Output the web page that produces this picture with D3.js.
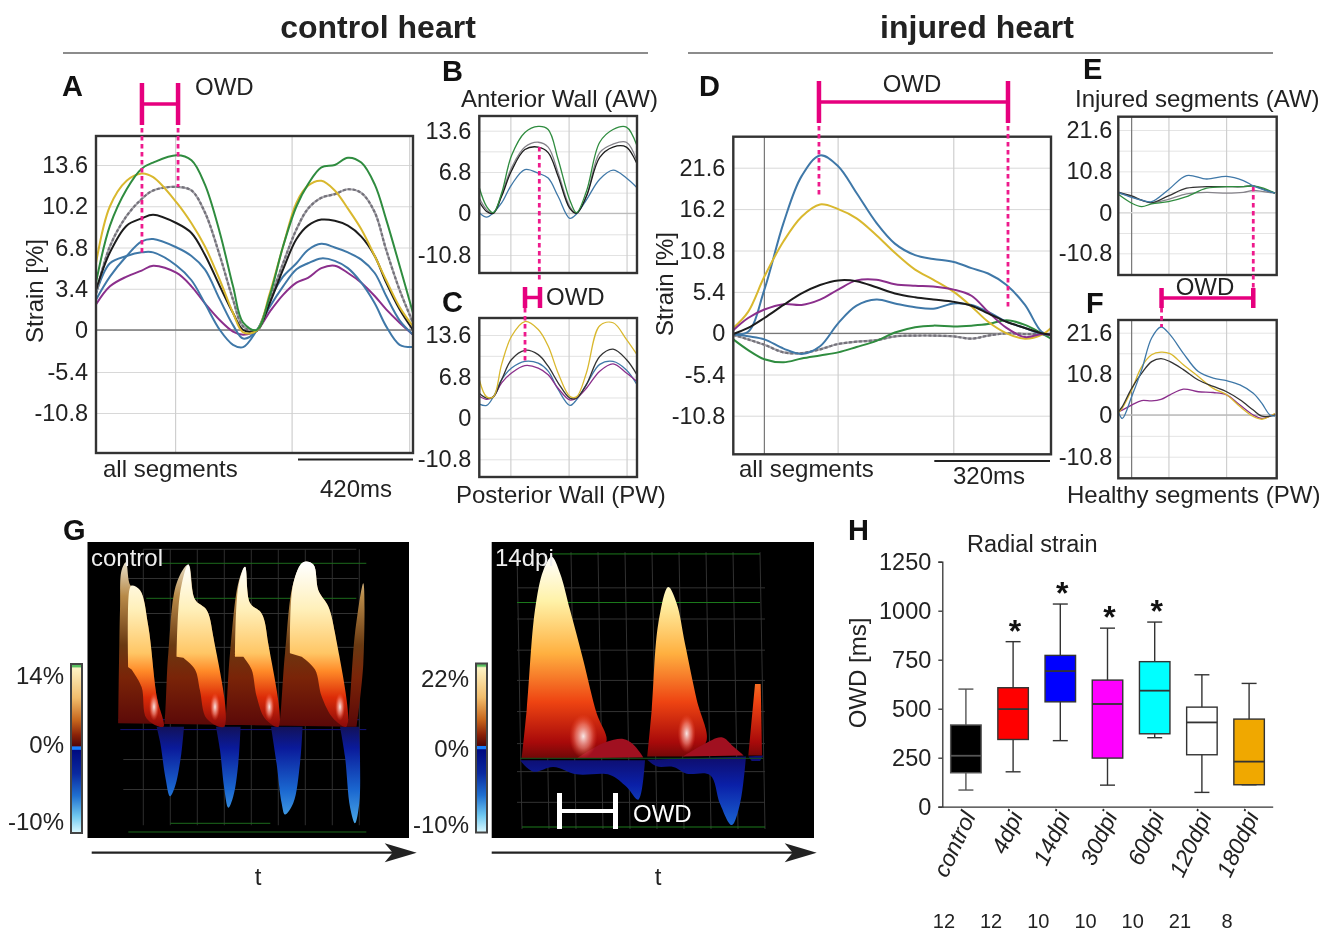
<!DOCTYPE html>
<html>
<head>
<meta charset="utf-8">
<script src="https://cdnjs.cloudflare.com/ajax/libs/d3/7.8.5/d3.min.js"></script>
<style>
  body { margin: 0; background: #fff; }
  svg { display: block; font-family: "Liberation Sans", Arial, sans-serif; fill: #222; filter: blur(0.45px); }
</style>
</head>
<body>
<div id="chart"></div>
<script>
// strain tick labels
var controlTicks = [13.6, 10.2, 6.8, 3.4, 0, -5.4, -10.8];
var injuredTicks = [21.6, 16.2, 10.8, 5.4, 0, -5.4, -10.8];
var smallControlLabels = [13.6, 6.8, 0, -10.8];
var smallInjuredLabels = [21.6, 10.8, 0, -10.8];

// panel A, time in ms
var timeA = [0, 51, 112, 167, 209, 295, 349, 398, 453, 501, 538, 587, 635, 684, 733, 775, 824, 873, 921, 970, 1019, 1061, 1110, 1159];
var aGreen = [3.9, 8.6, 11.6, 13.3, 13.8, 14.4, 14.0, 12.0, 8.0, 3.6, 0.6, 0, 2.8, 6.9, 10.2, 12, 13.4, 13.6, 14.2, 13.8, 12, 9.1, 5.3, 1.4];
var aYellow = [5.5, 10.2, 12.3, 12.9, 12.6, 10.5, 8.8, 6.9, 4.1, 1.4, -0.3, -0.1, 3, 6.9, 10.5, 11.9, 12.3, 11.5, 10, 8.3, 6.1, 4.1, 1.9, 0.3];
var aGrey = [3, 6.9, 9.4, 10.8, 11.5, 11.8, 11.5, 9.7, 6.1, 2.5, 0.3, -0.1, 2.5, 5.5, 8.3, 10, 10.9, 11.2, 11.6, 11.3, 9.7, 6.6, 3.3, 0.6];
var aBlack = [3.3, 6.4, 8.6, 9.2, 9.5, 8.8, 8, 6.2, 3.6, 1.4, 0, -0.1, 2.2, 5, 7.5, 8.6, 9.1, 9, 8.6, 7.7, 6.1, 3.9, 1.7, 0];
var aBlue1 = [2.5, 4.4, 6.1, 7.3, 7.5, 6.8, 6.1, 5, 2.5, 0.4, -1.1, -0.1, 2.5, 4.4, 5.5, 6.6, 7.1, 6.8, 6.4, 5.8, 4.7, 2.8, 0.8, -0.6];
var aBlue2 = [3, 5.5, 6.1, 6.4, 6.4, 5.3, 4.1, 2.2, 0, -1.9, -2.2, -0.1, 1.9, 3.6, 5, 5.5, 5.9, 5.7, 5.1, 3.9, 2.2, 0.3, -1.9, -2.2];
var aPurple = [2.1, 3.6, 4.4, 4.9, 5.3, 4.7, 3.6, 2.2, 0.8, -0.2, -0.6, -0.1, 1.5, 2.9, 3.9, 4.3, 5.1, 5.3, 4.7, 3.9, 2.8, 1.7, 0.6, -0.6];

// panels B and C share a time base
var timeB = [0, 54, 103, 164, 237, 335, 433, 506, 579, 665, 714, 787, 885, 983, 1081, 1159];
var bGreen = [4.2, 1.1, 0.1, 3.3, 9.5, 13.3, 14.3, 13.8, 8.9, 2.2, 0.1, 3.6, 11.7, 13.8, 14.2, 11.1];
var bGrey = [2.5, 0.6, 0, 3.1, 7.5, 10.9, 11.7, 10.9, 6.7, 1.1, 0, 2.8, 10, 11.4, 11.7, 8.6];
var bBlack = [1.9, 0.3, 0, 2.8, 7, 10.5, 10.9, 10, 6.1, 0.8, 0, 2.8, 9.2, 10.9, 10.9, 8.1];
var bBlue = [0.1, -1, 0.1, 1.7, 4.7, 7.2, 6.6, 5.8, 2.8, -1.3, -0.2, 2.2, 5.6, 7.1, 5.8, 4.2];
var cYellow = [6.3, 3.5, 3.5, 8.8, 13.4, 15.8, 14.5, 11.8, 7.4, 3.6, 3.5, 7.4, 15.1, 15.6, 12.9, 10.4];
var cBlack = [4.1, 3.3, 3.5, 6.3, 9.6, 11.1, 10.4, 8.5, 5.8, 3.3, 3.3, 5.5, 10.1, 11.3, 9.6, 7.1];
var cBlue = [2.3, 2.1, 3.5, 6.3, 8.2, 9.3, 9, 7.7, 4.7, 2.1, 3, 5.5, 8.8, 9.3, 7.9, 5.5];
var cPurple = [3.6, 3.1, 3.5, 5.8, 7.4, 8.6, 8.2, 7.1, 4.9, 3, 3.3, 4.9, 7.7, 8.9, 7.4, 6];

// panel D
var timeD = [0, 41, 86, 139, 189, 240, 290, 341, 396, 447, 503, 553, 610, 659, 705, 756, 807, 853, 879];
var dBlue1 = [-0.1, 0.2, 5.7, 14.4, 20.5, 23.2, 21.8, 18.3, 14.4, 11.7, 10.2, 9.7, 9.3, 8.5, 7.8, 6.3, 3.7, 0.2, -0.2];
var dYellow = [0.7, 2.8, 7.4, 12, 15.2, 16.8, 16.2, 15, 12.8, 10.5, 8.3, 7, 5.4, 3.5, 1.5, 0, -0.7, -0.2, 0.7];
var dBlack = [-0.1, 0.7, 2, 3.7, 5.2, 6.3, 6.9, 6.8, 6, 5.2, 4.7, 4.4, 4.1, 3.6, 2.6, 1.5, 0.7, 0, -0.2];
var dPurple = [0.4, 2, 3.1, 3.8, 3.7, 4.4, 5.7, 6.9, 7, 6.4, 6.2, 6.1, 5.7, 4.9, 2.8, 0.7, -0.5, -0.1, -0.2];
var dBlue2 = [-0.1, -0.4, -0.8, -2, -2.7, -1.7, 1.3, 3.6, 4.4, 3.9, 3.4, 3.2, 3.9, 3.7, 2.8, 1.5, 0.7, -0.1, -0.2];
var dGrey = [-0.2, -0.8, -1.5, -2.5, -2.6, -2.1, -1.4, -1.1, -0.9, -0.4, -0.3, -0.3, -0.4, -0.7, -0.3, 0, -0.1, -0.1, -0.2];
var dGreen = [-0.8, -2.2, -3.4, -3.8, -3.3, -2.9, -2.5, -1.8, -1, 0.1, 0.8, 1, 0.9, 1, 1.2, 1.7, 1.1, 0, -0.7];

// panel E
var timeE = [0, 74, 130, 185, 278, 379, 490, 601, 694, 749, 805, 870];
var eBlue = [5.3, 4, 3.3, 2.9, 6, 9.7, 8.8, 9.5, 8.4, 7, 6, 5.1];
var eBlack = [5.4, 4.4, 3.3, 2.6, 4.4, 6.4, 6.8, 6.8, 6.8, 7, 6.1, 5.1];
var eGrey = [5.1, 4.2, 3.2, 2.6, 3.5, 4.9, 5.3, 5.1, 5.3, 5.8, 5.5, 5.1];
var eGreen = [4.8, 2.5, 1.6, 2.3, 2.9, 4.2, 6.4, 6.8, 6.8, 7, 6.4, 5.1];

// panel F
var timeF = [0, 22, 74, 130, 185, 237, 287, 361, 444, 527, 601, 675, 749, 796, 842, 870];
var fBlue = [0.9, -0.9, 4.8, 11.9, 20.2, 23.1, 21.1, 16.2, 11.4, 9.7, 9, 7.9, 5.7, 3.1, 0, -0.3];
var fYellow = [0.6, 1.8, 6.6, 12.7, 15.8, 16.5, 16.1, 13.2, 10.1, 7, 5.3, 2.2, -0.4, -1.1, -0.3, 0.4];
var fBlack = [0.9, 2.2, 7, 11, 14, 14.8, 14, 11.9, 9.2, 7.5, 6.1, 4, 1.3, -0.3, -0.3, 0];
var fPurple = [0.9, 1.3, 2.6, 3.8, 3.7, 4.1, 5.3, 6.8, 6.1, 5.9, 5.3, 2.6, 0, -0.9, -0.3, 0.3];

// panel G surfaces as [frame, strain]
var controlBack = [[0, 0.3], [1.7, 10], [3.3, 13.4], [7.7, 14.1], [12.3, 12.1], [21.7, 11.7], [30, 8.6], [38.3, 2.6], [45, 0], [50, 6.3], [58.3, 12.3], [70, 13.9], [76.7, 10.9], [88.3, 10], [95, 7.7], [105.7, 0], [111.7, 6.3], [120, 12.3], [126.7, 13.7], [131.7, 10.6], [143.3, 9.7], [150, 7.1], [160, 0], [166.7, 6.3], [175, 12.3], [185, 14.1], [195, 13.9], [200, 11.7], [210, 10.3], [216.7, 8], [228.3, 0], [236.7, 8], [245, 12.3], [245, 5.4], [238.3, 0]];
var controlFront1 = [[10, 5.1], [11, 11.7], [13.3, 12.1], [21.7, 11.7], [30, 8.6], [38.3, 2.6], [45, 0], [28.3, 0.7], [23.3, 3.4], [13.3, 4.9]];
var controlFront2 = [[58.3, 6], [61.7, 11.4], [70, 13.9], [76.7, 10.9], [88.3, 10], [95, 7.7], [105.7, 0], [88.3, 0.7], [81.7, 3.1], [76.7, 4.9], [65, 5.9]];
var controlFront3 = [[116.7, 6], [120, 12], [126.7, 13.7], [131.7, 10.6], [143.3, 9.7], [150, 7.1], [160, 0], [146.7, 0.7], [138.3, 2.6], [133.3, 4.9], [125, 6]];
var controlFront4 = [[171.7, 6.3], [175, 12.3], [185, 14.1], [195, 13.9], [200, 11.7], [210, 10.3], [216.7, 8], [228.3, 0], [215, 0.7], [203.3, 2.6], [196.7, 4.9], [183.3, 6]];
var controlNeg1 = [[38.3, 0], [42, -1.7], [47, -5.2], [51.7, -7.2], [56.7, -6.2], [63, -2.8], [65.7, 0]];
var controlNeg2 = [[97.7, 0], [101.7, -2.4], [105.7, -6.2], [110, -8.4], [115, -7.2], [120, -3.8], [122.3, 0]];
var controlNeg3 = [[152.7, 0], [158.3, -3.8], [163.3, -7.9], [166.7, -9.1], [175, -7.9], [181.7, -3.8], [184.3, 0]];
var controlNeg4 = [[221.7, 0], [226.7, -3.1], [231.7, -8.3], [236.7, -10], [241, -7.9], [241.7, -3.1], [241, 0]];
var controlGlow = [[35.7, 1.7], [96.7, 1.7], [151, 1.7], [221.7, 1.7]];

var dpiPeak1 = [[1.7, 0], [6.7, 5.3], [15, 16.2], [23.3, 20.5], [31.7, 22], [40, 20.2], [50, 16.2], [63.3, 10.7], [76.7, 4.9], [86.7, 2], [80, 0.7], [56.7, 0]];
var dpiHump1 = [[56.7, 0], [73.3, 1.1], [86.7, 1.8], [103.3, 2.1], [113.3, 1.5], [123.3, 0.1]];
var dpiPeak2 = [[127.3, 0.2], [131.7, 5.3], [138.3, 14.7], [148.3, 18.7], [156.7, 16.9], [165, 12.5], [176.7, 6.4], [186.7, 2], [176.7, 0.7], [163.3, 0.2]];
var dpiHump2 = [[163.3, 0.2], [183.3, 1.5], [201.7, 2.3], [213.3, 1.3], [224, 0.3]];
var dpiStub = [[228.3, 0.3], [235, 8.1], [240.7, 8.1], [242, 0.3]];
var dpiNeg1 = [[0, -0.3], [13.3, -2], [33.3, -1.3], [56.7, -2.4], [90, -2.5], [106.7, -4.3], [118.3, -6.2], [125, -0.3]];
var dpiNeg2 = [[127.3, -0.2], [136.7, -1.2], [153.3, -1.3], [166.7, -2.3], [190, -2.5], [200, -6.8], [211.7, -10], [220, -6.8], [226, 0.2]];
var dpiNeg3 = [[228.3, 0.2], [243.3, 0.3], [240, -0.4], [231.7, -0.4]];
var dpiGlow = [[63.3, 2.4], [166.7, 2.7]];

// panel H box plot
var groups = ["control", "4dpi", "14dpi", "30dpi", "60dpi", "120dpi", "180dpi"];
var whiskerLow = [85, 178, 337, 110, 352, 73, 112];
var q1 = [173, 343, 535, 248, 372, 265, 112];
var medians = [260, 498, 692, 524, 592, 430, 230];
var q3 = [417, 607, 772, 646, 740, 508, 447];
var whiskerHigh = [600, 842, 1034, 911, 942, 673, 629];
var sampleSizes = [12, 12, 10, 10, 10, 21, 8];
var significant = ["4dpi", "14dpi", "30dpi", "60dpi"];
var owdTicks = [0, 250, 500, 750, 1000, 1250];

var GREEN = "#2f8c3f", YELLOW = "#d9b82e", BLACK = "#1c1c1c",
    BLUE = "#3f78a8", PURPLE = "#8b2f8c", PINK = "#e6007e";

var svg = d3.select("#chart").append("svg").attr("width", 1326).attr("height", 933);
var defs = svg.append("defs");

function label(x, y, text, size, opts) {
  opts = opts || {};
  return svg.append("text").attr("x", x).attr("y", y)
    .attr("font-size", size)
    .attr("font-weight", opts.bold ? "bold" : null)
    .attr("text-anchor", opts.anchor || "start")
    .attr("fill", opts.fill || "#222")
    .text(text);
}

// one strain panel: frame, grid, zero line, curves
function strainPanel(p) {
  var x = d3.scaleLinear().domain(p.timeDomain).range([p.left, p.right]);
  var y = d3.scaleLinear().domain(p.yDomain).range(p.yRange);
  var g = svg.append("g");

  var grid = g.append("g").attr("transform", "translate(" + p.left + ",0)")
    .call(d3.axisLeft(y).tickValues(p.ticks).tickSize(-(p.right - p.left)).tickPadding(p.pad)
      .tickFormat(function(d) { return p.labels.indexOf(d) >= 0 ? d : ""; }));
  grid.select(".domain").remove();
  grid.selectAll("line").attr("stroke", p.gridColor);
  grid.selectAll("text").attr("font-size", 23.5).attr("fill", "#222")
    .attr("font-family", "Liberation Sans, Arial, sans-serif");

  g.selectAll(".vgrid").data(p.vgrid).enter().append("line")
    .attr("x1", function(d) { return x(d); }).attr("x2", function(d) { return x(d); })
    .attr("y1", p.top).attr("y2", p.bottom)
    .attr("stroke", "#cfcfcf").attr("stroke-width", 1.2);
  if (p.darkLine !== undefined) {
    g.append("line").attr("x1", x(p.darkLine)).attr("x2", x(p.darkLine))
      .attr("y1", p.top).attr("y2", p.bottom).attr("stroke", "#777").attr("stroke-width", 1.2);
  }
  g.append("line").attr("x1", p.left).attr("x2", p.right)
    .attr("y1", y(0)).attr("y2", y(0)).attr("stroke", p.zeroColor).attr("stroke-width", 1.3);

  var line = d3.line()
    .x(function(d) { return x(d[0]); })
    .y(function(d) { return y(d[1]); })
    .curve(d3.curveCatmullRom.alpha(0.5));
  p.series.forEach(function(s) {
    g.append("path").datum(d3.zip(p.time, s.values))
      .attr("fill", "none").attr("stroke", s.color)
      .attr("stroke-width", s.width || p.lineWidth)
      .attr("stroke-dasharray", s.dash || null)
      .attr("d", line);
  });

  g.append("rect").attr("x", p.left).attr("y", p.top)
    .attr("width", p.right - p.left).attr("height", p.bottom - p.top)
    .attr("fill", "none").attr("stroke", "#333").attr("stroke-width", 2.4);
  return x;
}

var timeAll = [0, 1159];

var xA = strainPanel({
  left: 96, right: 413, top: 136, bottom: 453, timeDomain: timeAll,
  yDomain: [-10.8, -5.4, 0, 13.6], yRange: [413, 372, 330, 165],
  ticks: controlTicks, labels: controlTicks, pad: 8, gridColor: "#d8d8d8", zeroColor: "#777",
  vgrid: [291, 717, 1147], time: timeA, lineWidth: 2,
  series: [
    { values: aPurple, color: PURPLE }, { values: aBlue2, color: BLUE }, { values: aBlue1, color: BLUE },
    { values: aGrey, color: "#a5a3aa", width: 2.2 }, { values: aGrey, color: "#74727a", width: 2.2, dash: "3 2" },
    { values: aBlack, color: BLACK }, { values: aYellow, color: YELLOW }, { values: aGreen, color: GREEN }
  ]
});

var xB = strainPanel({
  left: 479.3, right: 637, top: 116, bottom: 273, timeDomain: timeAll,
  yDomain: [-10.8, -5.4, 0, 13.6], yRange: [255, 234.3, 213.3, 130.7],
  ticks: controlTicks, labels: smallControlLabels, pad: 8, gridColor: "#e2e2e2", zeroColor: "#bbb",
  vgrid: [232, 660, 1086], time: timeB, lineWidth: 1.3,
  series: [
    { values: bGrey, color: "#85838a" }, { values: bBlue, color: BLUE },
    { values: bBlack, color: BLACK }, { values: bGreen, color: GREEN }
  ]
});

var xC = strainPanel({
  left: 479.3, right: 637, top: 318, bottom: 477, timeDomain: timeAll,
  yDomain: [-10.8, -5.4, 0, 13.6], yRange: [459.3, 438.7, 418.3, 335],
  ticks: controlTicks, labels: smallControlLabels, pad: 8, gridColor: "#e2e2e2", zeroColor: "#e2e2e2",
  vgrid: [232, 660, 1086], time: timeB, lineWidth: 1.3,
  series: [
    { values: cBlue, color: BLUE }, { values: cPurple, color: PURPLE },
    { values: cBlack, color: "#333" }, { values: cYellow, color: YELLOW }
  ]
});

var timeInj = [0, 879];

var xD = strainPanel({
  left: 733.3, right: 1051, top: 136.7, bottom: 454.3, timeDomain: timeInj,
  yDomain: [-10.8, 0, 21.6], yRange: [415.7, 333.3, 167.7],
  ticks: injuredTicks, labels: injuredTicks, pad: 8, gridColor: "#d8d8d8", zeroColor: "#777",
  vgrid: [290, 610], darkLine: 86, time: timeD, lineWidth: 2,
  series: [
    { values: dGrey, color: "#a5a3aa", width: 2.2 }, { values: dGrey, color: "#74727a", width: 2.2, dash: "3 2" },
    { values: dGreen, color: GREEN }, { values: dBlue2, color: BLUE }, { values: dBlue1, color: BLUE },
    { values: dYellow, color: YELLOW }, { values: dPurple, color: PURPLE }, { values: dBlack, color: BLACK }
  ]
});

var xE = strainPanel({
  left: 1118.3, right: 1276.7, top: 116.7, bottom: 275, timeDomain: timeInj,
  yDomain: [-10.8, 0, 21.6], yRange: [253.3, 212.7, 130],
  ticks: injuredTicks, labels: smallInjuredLabels, pad: 6, gridColor: "#e4e4e4", zeroColor: "#ddd",
  vgrid: [281, 601], darkLine: 74, time: timeE, lineWidth: 1.3,
  series: [
    { values: eGrey, color: "#85838a" }, { values: eBlack, color: "#333" },
    { values: eGreen, color: GREEN }, { values: eBlue, color: BLUE }
  ]
});

var xF = strainPanel({
  left: 1118.3, right: 1276.7, top: 320, bottom: 478.3, timeDomain: timeInj,
  yDomain: [-10.8, 0, 21.6], yRange: [456.7, 415, 332.7],
  ticks: injuredTicks, labels: smallInjuredLabels, pad: 6, gridColor: "#e4e4e4", zeroColor: "#bbb",
  vgrid: [281, 601], darkLine: 74, time: timeF, lineWidth: 1.3,
  series: [
    { values: fPurple, color: PURPLE }, { values: fYellow, color: YELLOW },
    { values: fBlack, color: "#333" }, { values: fBlue, color: BLUE }
  ]
});

// headers
label(378, 38, "control heart", 32, { bold: true, anchor: "middle" });
label(977, 38, "injured heart", 32, { bold: true, anchor: "middle" });
svg.append("line").attr("x1", 63).attr("x2", 648).attr("y1", 53).attr("y2", 53).attr("stroke", "#666").attr("stroke-width", 1.3);
svg.append("line").attr("x1", 688).attr("x2", 1273).attr("y1", 53).attr("y2", 53).attr("stroke", "#666").attr("stroke-width", 1.3);

// panel letters
[["A", 62, 96], ["B", 442, 81], ["C", 442, 312], ["D", 699, 96], ["E", 1083, 79], ["F", 1086, 313], ["G", 63, 540], ["H", 848, 540]]
  .forEach(function(d) { label(d[1], d[2], d[0], 29, { bold: true, fill: "#111" }); });

// captions
label(103, 477, "all segments", 24);
label(320, 497, "420ms", 24);
label(739, 477, "all segments", 24);
label(953, 484, "320ms", 24);
label(461, 107, "Anterior Wall (AW)", 24);
label(456, 503, "Posterior Wall (PW)", 24);
label(1075, 107, "Injured segments (AW)", 24);
label(1067, 503, "Healthy segments (PW)", 24);
label(35, 291, "Strain [%]", 24, { anchor: "middle" }).attr("transform", "rotate(-90 35 291)").attr("dy", 8);
label(665, 284, "Strain [%]", 24, { anchor: "middle" }).attr("transform", "rotate(-90 665 284)").attr("dy", 8);
label(195, 95, "OWD", 24);
label(546, 305, "OWD", 24);
label(912, 92, "OWD", 24, { anchor: "middle" });
label(1205, 295, "OWD", 24, { anchor: "middle" });

// scale bars
[[298, 413, 459.5], [934.3, 1050, 461]].forEach(function(d) {
  svg.append("line").attr("x1", d[0]).attr("x2", d[1]).attr("y1", d[2]).attr("y2", d[2]).attr("stroke", "#222").attr("stroke-width", 2);
});

// OWD brackets and the dotted drop lines
function bracket(x1, x2, top, bottom) {
  var mid = (top + bottom) / 2;
  [x1, x2].forEach(function(x) {
    svg.append("line").attr("x1", x).attr("x2", x).attr("y1", top).attr("y2", bottom).attr("stroke", PINK).attr("stroke-width", 4.5);
  });
  svg.append("line").attr("x1", x1).attr("x2", x2).attr("y1", mid).attr("y2", mid).attr("stroke", PINK).attr("stroke-width", 3.5);
}
function dropLine(x, y1, y2) {
  svg.append("line").attr("x1", x).attr("x2", x).attr("y1", y1).attr("y2", y2)
    .attr("stroke", "#ee1a8c").attr("stroke-width", 2.8).attr("stroke-dasharray", "4.5 3.5");
}
bracket(xA(168), xA(300), 83, 125);
dropLine(xA(168), 128, 253);
dropLine(xA(300), 128, 187);
bracket(xC(336), xC(446), 287, 308);
dropLine(xB(441), 147, 282);
dropLine(xC(336), 308, 362);
bracket(xD(237), xD(760), 81, 123);
dropLine(xD(237), 126, 198);
dropLine(xD(760), 126, 310);
bracket(xF(240), xE(749), 288, 308);
dropLine(xE(749), 187, 288);
dropLine(xF(240), 308, 327);

// panel G ---------------------------------------------------------------
function addGradient(id, x1, y1, x2, y2, stops) {
  var gr = defs.append("linearGradient").attr("id", id).attr("gradientUnits", "userSpaceOnUse")
    .attr("x1", x1).attr("y1", y1).attr("x2", x2).attr("y2", y2);
  stops.forEach(function(s) { gr.append("stop").attr("offset", s[0]).attr("stop-color", s[1]); });
}
var glow = defs.append("radialGradient").attr("id", "glow");
glow.append("stop").attr("offset", "0%").attr("stop-color", "#ffffff").attr("stop-opacity", 0.9);
glow.append("stop").attr("offset", "55%").attr("stop-color", "#ffa090").attr("stop-opacity", 0.55);
glow.append("stop").attr("offset", "100%").attr("stop-color", "#ff5030").attr("stop-opacity", 0);

var barStops = [[0, "#58c060"], [0.015, "#58c060"], [0.025, "#fdf2c4"], [0.2, "#f2bd6c"], [0.33, "#c8681e"],
  [0.42, "#8a2208"], [0.485, "#520606"], [0.49, "#1a80ff"], [0.505, "#1a80ff"], [0.51, "#000a80"],
  [0.65, "#0a2aa0"], [0.78, "#2070d0"], [0.9, "#70c8f0"], [1, "#dcf9ff"]];

function colorBar(id, x, y, w, h) {
  addGradient(id, 0, y, 0, y + h, barStops);
  svg.append("rect").attr("x", x).attr("y", y).attr("width", w).attr("height", h)
    .attr("fill", "url(#" + id + ")").attr("stroke", "#444").attr("stroke-width", 2);
}

// outline is curved, the closing edge stays straight
function surface(g, x, y, shape, fill, curve) {
  var line = d3.line().x(function(d) { return x(d[0]); }).y(function(d) { return y(d[1]); })
    .curve(curve || d3.curveCatmullRom.alpha(0.5));
  g.append("path").attr("d", line(shape) + "Z").attr("fill", fill);
}

function hLine(g, x, y, v, t0, t1, color) {
  g.append("line").attr("x1", x(t0)).attr("x2", x(t1)).attr("y1", y(v)).attr("y2", y(v))
    .attr("stroke", color).attr("stroke-width", 1);
}

// control surface
svg.append("rect").attr("x", 87.5).attr("y", 542).attr("width", 321.5).attr("height", 296).attr("fill", "#000");
var xG1 = d3.scaleLinear().domain([0, 245]).range([118.3, 363.3]);
var yG1 = d3.scaleLinear().domain([-10, 0, 14]).range([823.3, 726.7, 563.3]);
var g1 = svg.append("g");

d3.range(0, 9).forEach(function(i) {
  var t = 25 + i * 27;
  g1.append("line").attr("x1", xG1(t)).attr("x2", xG1(t)).attr("y1", yG1(15.2)).attr("y2", yG1(-10.2))
    .attr("stroke", "#3a3a3a").attr("stroke-width", 0.8);
});
[12.7, 9.7, 6.8, 3.8, -3.4, -6.5].forEach(function(v) { hLine(g1, xG1, yG1, v, 5, 240, "#333"); });
hLine(g1, xG1, yG1, 15.2, 25, 238, "#333");
hLine(g1, xG1, yG1, 14, 43, 248, "#1c6a1c");
hLine(g1, xG1, yG1, 11, 28, 238, "#1c6a1c");
hLine(g1, xG1, yG1, -10.9, 10, 248, "#1c6a1c");
hLine(g1, xG1, yG1, -10, 52, 152, "#1c6a1c");
hLine(g1, xG1, yG1, 0.6, 0, 241, "#141478");
hLine(g1, xG1, yG1, -0.3, 2, 248, "#141478");

addGradient("c-back", 0, yG1(14), 0, yG1(0), [[0, "#e6ddc6"], [0.2, "#b88a48"], [0.5, "#6a3a12"], [0.7, "#7a2408"], [1, "#5a0808"]]);
addGradient("c-front", 0, yG1(14), 0, yG1(0), [[0, "#ffffff"], [0.28, "#fff0ba"], [0.55, "#ffc665"], [0.66, "#ff8a28"], [0.82, "#dc2c08"], [1, "#8b0a0a"]]);
addGradient("c-neg", 0, yG1(0), 0, yG1(-10), [[0, "#12125a"], [0.22, "#0a1a9a"], [0.65, "#1a66cf"], [1, "#4aa8e8"]]);
[controlNeg1, controlNeg2, controlNeg3, controlNeg4].forEach(function(s) { surface(g1, xG1, yG1, s, "url(#c-neg)"); });
surface(g1, xG1, yG1, controlBack, "url(#c-back)");
[controlFront1, controlFront2, controlFront3, controlFront4].forEach(function(s) { surface(g1, xG1, yG1, s, "url(#c-front)"); });
g1.selectAll(".glow").data(controlGlow).enter().append("ellipse")
  .attr("cx", function(d) { return xG1(d[0]); }).attr("cy", function(d) { return yG1(d[1]); })
  .attr("rx", 5).attr("ry", 14).attr("fill", "url(#glow)");

label(91, 566, "control", 24, { fill: "#eee" });
colorBar("bar1", 71, 664, 11, 169);
label(64, 684, "14%", 24, { anchor: "end" });
label(64, 753, "0%", 24, { anchor: "end" });
label(64, 830, "-10%", 24, { anchor: "end" });

// 14dpi surface
svg.append("rect").attr("x", 491.7).attr("y", 542).attr("width", 322.3).attr("height", 296).attr("fill", "#000");
var xG2 = d3.scaleLinear().domain([0, 245]).range([520, 765]);
var yG2 = d3.scaleLinear().domain([-10, 0, 22]).range([825, 758.3, 556.7]);
var g2 = svg.append("g");

d3.range(0, 10).forEach(function(i) {
  var t = -3 + i * 27;
  g2.append("line").attr("x1", xG2(t)).attr("x2", xG2(t + 5)).attr("y1", yG2(22.5)).attr("y2", yG2(-10.6))
    .attr("stroke", "#3e3e3e").attr("stroke-width", 0.8);
});
[18.6, 15.2, 11.8, 8.5, 5.1, 1.6, -2, -6.6].forEach(function(v) { hLine(g2, xG2, yG2, v, -3, 245, "#333"); });
hLine(g2, xG2, yG2, 22.3, 33, 240, "#1c7a1c");
hLine(g2, xG2, yG2, 17, -3, 240, "#1c7a1c");
hLine(g2, xG2, yG2, -10.3, 2, 245, "#1c7a1c");

addGradient("d-pos", 0, yG2(22), 0, yG2(0), [[0, "#ffffff"], [0.22, "#fff2a8"], [0.48, "#ffb040"], [0.72, "#ee4412"], [0.92, "#a80a0a"], [1, "#700808"]]);
addGradient("d-neg", 0, yG2(0), 0, yG2(-10), [[0, "#0e0e70"], [0.4, "#0a20a8"], [1, "#1a62d0"]]);
[dpiNeg1, dpiNeg2].forEach(function(s) { surface(g2, xG2, yG2, s, "url(#d-neg)"); });
surface(g2, xG2, yG2, dpiNeg3, "url(#d-neg)", d3.curveLinear);
[dpiPeak1, dpiPeak2].forEach(function(s) { surface(g2, xG2, yG2, s, "url(#d-pos)"); });
surface(g2, xG2, yG2, dpiStub, "url(#d-pos)", d3.curveLinear);
[dpiHump1, dpiHump2].forEach(function(s) { surface(g2, xG2, yG2, s, "#a01020"); });
g2.selectAll(".glow").data(dpiGlow).enter().append("ellipse")
  .attr("cx", function(d) { return xG2(d[0]); }).attr("cy", function(d) { return yG2(d[1]); })
  .attr("rx", function(d, i) { return i === 0 ? 14 : 9; }).attr("ry", function(d, i) { return i === 0 ? 22 : 19; })
  .attr("fill", "url(#glow)");
hLine(g2, xG2, yG2, 0, 0, 243, "#14501c");

label(495, 566, "14dpi", 24, { fill: "#eee" });
colorBar("bar2", 476, 663.5, 11, 169);
label(469, 687, "22%", 24, { anchor: "end" });
label(469, 757, "0%", 24, { anchor: "end" });
label(469, 833, "-10%", 24, { anchor: "end" });

// white OWD bracket on the 14dpi surface
[559.5, 615.5].forEach(function(x) {
  svg.append("line").attr("x1", x).attr("x2", x).attr("y1", 793).attr("y2", 829).attr("stroke", "#fff").attr("stroke-width", 5);
});
svg.append("line").attr("x1", 559.5).attr("x2", 615.5).attr("y1", 811).attr("y2", 811).attr("stroke", "#fff").attr("stroke-width", 4);
label(633, 822, "OWD", 24, { fill: "#fff" });

// time arrows
[[91.7, 416.7, 258], [491.7, 816.7, 658]].forEach(function(d) {
  var y = 852.7, tip = d[1];
  svg.append("line").attr("x1", d[0]).attr("x2", tip - 20).attr("y1", y).attr("y2", y).attr("stroke", "#222").attr("stroke-width", 2.2);
  svg.append("path").attr("fill", "#222")
    .attr("d", "M" + tip + "," + y + "L" + (tip - 32) + "," + (y - 9.5) + "L" + (tip - 24) + "," + y + "L" + (tip - 32) + "," + (y + 9.5) + "Z");
  label(d[2], 885, "t", 24, { anchor: "middle" });
});

// panel H ---------------------------------------------------------------
var xH = d3.scaleBand().domain(groups).range([942.3, 1272.7]);
var yH = d3.scaleLinear().domain([0, 1250]).range([806.7, 561.7]);
var boxColors = ["#000000", "#ff0000", "#0000ff", "#ff00ff", "#00ffff", "#ffffff", "#f0a800"];
var boxWidth = 30.5;

var axisY = svg.append("g").attr("transform", "translate(942.3,0)")
  .call(d3.axisLeft(yH).tickValues(owdTicks).tickSize(4).tickPadding(7).tickFormat(d3.format("d")));
axisY.selectAll("text").attr("font-size", 23.5).attr("fill", "#222").attr("font-family", "Liberation Sans, Arial, sans-serif");
axisY.selectAll("path,line").attr("stroke", "#333").attr("stroke-width", 1.3);

var axisX = svg.append("g").attr("transform", "translate(0,806.7)")
  .call(d3.axisBottom(xH).tickSize(0));
axisX.selectAll("path").attr("stroke", "#333").attr("stroke-width", 1.3);
axisX.selectAll("text")
  .attr("font-size", 23).attr("fill", "#222").attr("font-style", "italic")
  .attr("font-family", "Liberation Sans, Arial, sans-serif")
  .attr("text-anchor", "end").attr("x", 0).attr("y", 0).attr("dy", "0.35em")
  .attr("transform", "translate(3,6) rotate(-65)");

groups.forEach(function(name, i) {
  var cx = xH(name) + xH.bandwidth() / 2;
  var g = svg.append("g").attr("stroke", i === 0 ? "#555" : "#333").attr("stroke-width", 1.4);
  g.append("line").attr("x1", cx).attr("x2", cx).attr("y1", yH(whiskerHigh[i])).attr("y2", yH(whiskerLow[i]));
  [whiskerHigh[i], whiskerLow[i]].forEach(function(v) {
    g.append("line").attr("x1", cx - 7.5).attr("x2", cx + 7.5).attr("y1", yH(v)).attr("y2", yH(v));
  });
  g.append("rect").attr("x", cx - boxWidth / 2).attr("width", boxWidth)
    .attr("y", yH(q3[i])).attr("height", yH(q1[i]) - yH(q3[i]))
    .attr("fill", boxColors[i]);
  g.append("line").attr("x1", cx - boxWidth / 2).attr("x2", cx + boxWidth / 2)
    .attr("y1", yH(medians[i])).attr("y2", yH(medians[i])).attr("stroke-width", 1.8);
  label(cx - 22, 928, sampleSizes[i], 20, { anchor: "middle" });
  if (significant.indexOf(name) >= 0) {
    label(cx + 2, yH(whiskerHigh[i]), "*", 32, { bold: true, anchor: "middle", fill: "#111" });
  }
});

label(967, 552, "Radial strain", 23.5);
label(866, 673, "OWD [ms]", 24, { anchor: "middle" }).attr("transform", "rotate(-90 866 673)");
</script>
</body>
</html>
